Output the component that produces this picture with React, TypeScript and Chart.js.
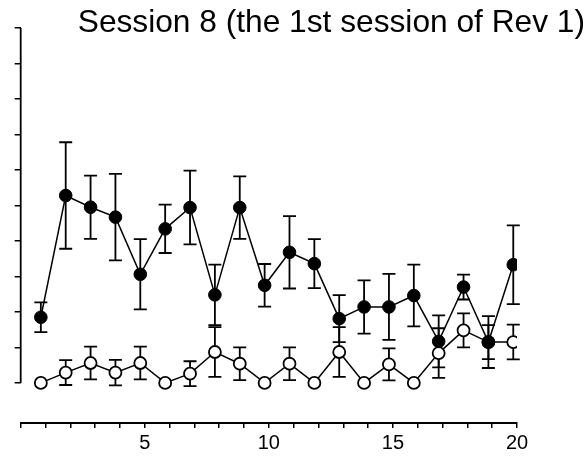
import React, { useEffect, useRef } from 'react';
import { Chart, registerables } from 'chart.js';

Chart.register(...registerables);

const titleText = 'Session 8 (the 1st session of Rev 1)';
const sessions = [1, 2, 3, 4, 5, 6, 7, 8, 9, 10, 11, 12, 13, 14, 15, 16, 17, 18, 19, 20];
const filledMeans = [1.85, 5.28, 4.95, 4.67, 3.06, 4.34, 4.94, 2.48, 4.94, 2.75, 3.68, 3.36, 1.81, 2.14, 2.14, 2.46, 1.17, 2.7, 1.15, 3.33];
const filledErrors = [0.42, 1.5, 0.89, 1.22, 0.99, 0.68, 1.04, 0.85, 0.88, 0.6, 1.02, 0.69, 0.66, 0.75, 0.93, 0.87, 0.73, 0.35, 0.73, 1.11];
const openMeans = [0, 0.29, 0.56, 0.29, 0.56, 0, 0.26, 0.87, 0.54, 0, 0.54, 0, 0.87, 0, 0.52, 0, 0.84, 1.48, 1.15, 1.15];
const openErrors = [0, 0.35, 0.46, 0.36, 0.46, 0, 0.35, 0.7, 0.46, 0, 0.46, 0, 0.7, 0, 0.45, 0, 0.7, 0.48, 0.48, 0.49];
const xAxisTicks = [0, 1, 2, 3, 4, 5, 6, 7, 8, 9, 10, 11, 12, 13, 14, 15, 16, 17, 18, 19, 20];
const xLabeledTicks = [5, 10, 15, 20];
const yTicks = [0, 1, 2, 3, 4, 5, 6, 7, 8, 9, 10];

const FONT = 'Liberation Sans, Arial, Helvetica, sans-serif';

const errorBarPlugin = {
  id: 'errorBars',
  beforeDatasetsDraw(chart: any) {
    const ctx = chart.ctx;
    const xs = chart.scales.x;
    const ys = chart.scales.y;
    chart.data.datasets.forEach((ds: any) => {
      const errs = ds.errors as number[] | undefined;
      if (!errs) return;
      ctx.save();
      ctx.strokeStyle = '#000';
      ctx.lineWidth = 1.8;
      ds.data.forEach((p: any, i: number) => {
        const e = errs[i];
        if (!e) return;
        const px = xs.getPixelForValue(p.x);
        const top = ys.getPixelForValue(p.y + e);
        const bot = ys.getPixelForValue(p.y - e);
        ctx.beginPath();
        ctx.moveTo(px, top);
        ctx.lineTo(px, bot);
        ctx.moveTo(px - 6.5, top);
        ctx.lineTo(px + 6.5, top);
        ctx.moveTo(px - 6.5, bot);
        ctx.lineTo(px + 6.5, bot);
        ctx.stroke();
      });
      ctx.restore();
    });
  },
};

const yAxisLinePlugin = {
  id: 'yAxisLine',
  afterDraw(chart: any) {
    const ctx = chart.ctx;
    const ys = chart.scales.y;
    const x = chart.chartArea.left;
    ctx.save();
    ctx.strokeStyle = '#000';
    ctx.lineWidth = 1.8;
    ctx.beginPath();
    ctx.moveTo(x, ys.getPixelForValue(yTicks[0]));
    ctx.lineTo(x, ys.getPixelForValue(yTicks[yTicks.length - 1]));
    ctx.stroke();
    ctx.restore();
  },
};

export default function App() {
  const ref = useRef<HTMLCanvasElement | null>(null);

  useEffect(() => {
    if (!ref.current) return;
    const chart = new Chart(ref.current, {
      type: 'line',
      data: {
        datasets: [
          {
            label: 'filled',
            data: sessions.map((s, i) => ({ x: s, y: filledMeans[i] })),
            errors: filledErrors,
            xAxisID: 'x',
            yAxisID: 'y',
            borderColor: '#000',
            borderWidth: 1.5,
            backgroundColor: '#000',
            pointBackgroundColor: '#000',
            pointBorderColor: '#000',
            pointBorderWidth: 1,
            pointRadius: 6.3,
            tension: 0,
            order: 0,
          } as any,
          {
            label: 'open',
            data: sessions.map((s, i) => ({ x: s, y: openMeans[i] })),
            errors: openErrors,
            xAxisID: 'x',
            yAxisID: 'y',
            borderColor: '#000',
            borderWidth: 1.5,
            backgroundColor: '#fff',
            pointBackgroundColor: '#fff',
            pointBorderColor: '#000',
            pointBorderWidth: 1.8,
            pointRadius: 6,
            tension: 0,
            order: 1,
          } as any,
        ],
      },
      options: {
        responsive: false,
        animation: false,
        devicePixelRatio: 1,
        layout: { padding: { left: 14.7, right: 3, top: 0, bottom: 3 } },
        plugins: {
          legend: { display: false },
          tooltip: { enabled: false },
          title: {
            display: true,
            text: titleText,
            align: 'end',
            color: '#000',
            font: { family: FONT, size: 31.7, weight: 'normal', lineHeight: 0.27 },
            padding: { top: 19.2, bottom: 0.2 },
          },
        },
        scales: {
          x: { type: 'linear', display: false, min: 0.19, max: 20.15 },
          xa: {
            type: 'linear',
            position: 'bottom',
            min: 0,
            max: 20,
            afterBuildTicks: (s: any) => {
              s.ticks = xAxisTicks.map((v) => ({ value: v }));
            },
            ticks: {
              autoSkip: false,
              maxRotation: 0,
              padding: 3,
              color: '#000',
              font: { family: FONT, size: 20 },
              callback: (v: any) => (xLabeledTicks.includes(Number(v)) ? String(v) : ''),
            },
            grid: { drawOnChartArea: false, drawTicks: true, tickLength: 5, color: '#000', lineWidth: 1.5 },
            border: { display: true, color: '#000', width: 2 },
          },
          y: {
            type: 'linear',
            position: 'left',
            min: -1.13,
            max: 10,
            afterBuildTicks: (s: any) => {
              s.ticks = yTicks.map((v) => ({ value: v }));
            },
            afterFit: (s: any) => {
              s.width = 6;
            },
            ticks: { display: false },
            grid: { drawOnChartArea: false, drawTicks: true, tickLength: 6, color: '#000', lineWidth: 1.5 },
            border: { display: false },
          },
          yr: {
            type: 'linear',
            position: 'right',
            display: true,
            afterFit: (s: any) => {
              s.width = 68;
            },
            ticks: { display: false },
            grid: { display: false },
            border: { display: false },
          },
        },
      } as any,
      plugins: [errorBarPlugin, yAxisLinePlugin],
    });
    return () => chart.destroy();
  }, []);

  return (
    <div style={{ position: 'absolute', left: 0, top: 0, width: 588, height: 461, background: '#fff' }}>
      <canvas ref={ref} width={588} height={461} style={{ display: 'block', width: 588, height: 461 }} />
    </div>
  );
}
